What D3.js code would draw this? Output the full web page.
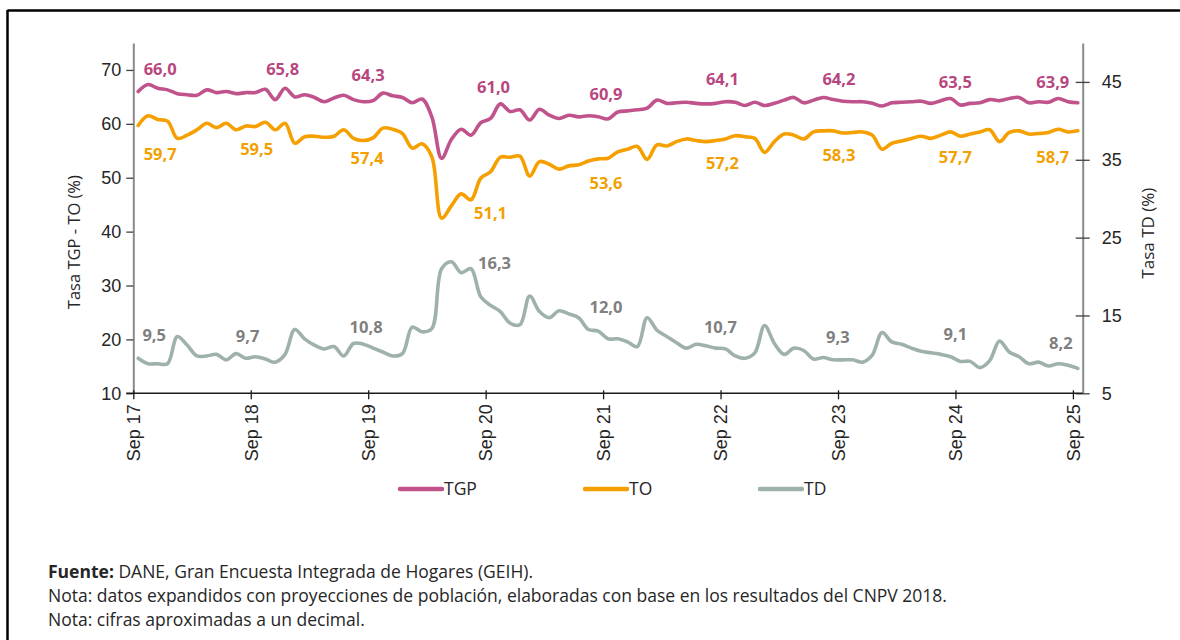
<!DOCTYPE html>
<html>
<head>
<meta charset="utf-8">
<script src="https://cdn.jsdelivr.net/npm/d3@7"></script>
<style>
  html, body { margin: 0; padding: 0; background: #fff; }
  svg { display: block; font-family: "Open Sans", "Noto Sans", sans-serif; }
</style>
</head>
<body>
<svg id="chart" width="1180" height="640"></svg>
<script>
// ---------- DATA ----------
const startMonth = "2017-09";
const xTickLabels = ["Sep 17","Sep 18","Sep 19","Sep 20","Sep 21","Sep 22","Sep 23","Sep 24","Sep 25"];
const leftTicks = [10, 20, 30, 40, 50, 60, 70];
const rightTicks = [5, 15, 25, 35, 45];
const seriesNames = ["TGP", "TO", "TD"];

const tgp = [66.0,67.3,66.6,66.3,65.6,65.4,65.3,66.3,65.8,66.0,65.6,65.8,
  65.8,66.4,64.5,66.6,65.0,65.4,64.9,64.1,64.8,65.3,64.5,64.1,
  64.3,65.7,65.2,64.9,63.9,64.6,61.3,53.6,57.1,59.0,57.9,60.2,
  61.0,63.7,62.3,62.6,60.7,62.7,61.6,61.0,61.6,61.3,61.5,61.3,
  60.9,62.2,62.4,62.6,62.9,64.4,63.8,63.9,64.0,63.8,63.7,63.8,
  64.1,64.0,63.4,64.0,63.4,63.8,64.4,64.9,63.9,64.4,64.9,64.5,
  64.2,64.1,64.1,63.8,63.3,63.9,64.0,64.1,64.2,63.8,64.3,64.7,
  63.5,63.8,63.9,64.5,64.3,64.7,64.9,63.9,64.1,64.0,64.7,64.1,
  63.9];
const to = [59.7,61.5,60.8,60.5,57.3,57.9,58.9,60.1,59.3,60.1,58.9,59.6,
  59.5,60.3,58.9,60.1,56.4,57.6,57.7,57.5,57.7,58.9,57.3,56.9,
  57.4,59.2,59.0,58.2,55.5,56.3,53.9,42.5,44.8,47.0,45.9,49.9,
  51.1,53.8,53.8,54.0,50.3,53.0,52.5,51.6,52.2,52.4,53.1,53.5,
  53.6,54.8,55.3,55.8,53.4,56.1,55.9,56.7,57.2,56.9,56.7,56.9,
  57.2,57.8,57.6,57.3,54.7,56.7,58.1,57.9,57.2,58.5,58.7,58.7,
  58.3,58.4,58.5,57.9,55.3,56.4,56.8,57.3,57.7,57.3,57.9,58.5,
  57.7,58.1,58.5,58.9,56.7,58.4,58.7,58.1,58.2,58.4,59.0,58.5,
  58.7];
const td = [9.5,8.8,8.8,8.8,12.3,11.2,9.8,9.8,10.0,9.3,10.1,9.5,
  9.7,9.4,9.0,10.0,13.2,12.0,11.2,10.7,11.0,9.8,11.4,11.3,
  10.8,10.3,9.8,10.1,13.5,12.9,13.3,21.0,21.9,20.5,21.0,17.4,
  16.3,15.5,14.0,13.8,17.5,15.5,14.7,15.6,15.2,14.7,13.2,13.0,
  12.0,12.0,11.6,11.0,14.7,13.1,12.3,11.5,10.8,11.3,11.1,10.8,
  10.7,9.8,9.5,10.2,13.7,11.4,10.0,10.8,10.5,9.4,9.6,9.3,
  9.3,9.3,9.0,9.9,12.8,11.6,11.3,10.8,10.4,10.2,10.0,9.7,
  9.1,9.1,8.3,9.2,11.7,10.3,9.7,8.8,9.0,8.5,8.8,8.6,
  8.2];
// Labelled points: every September (index within the series)
const labelIdx = [0, 12, 24, 36, 48, 60, 72, 84, 96];

const footerLines = [
  { bold: "Fuente:", text: " DANE, Gran Encuesta Integrada de Hogares (GEIH)." },
  { bold: "", text: "Nota: datos expandidos con proyecciones de población, elaboradas con base en los resultados del CNPV 2018." },
  { bold: "", text: "Nota: cifras aproximadas a un decimal." }
];

// ---------- STYLE / LAYOUT ----------
const colors = { TGP: "#c0538c", TO: "#f5a000", TD: "#9fb1ad" };
const labelColors = { TGP: "#b8467f", TO: "#f2a000", TD: "#7f7f7f" };
// label offsets (px) relative to their point, per labelled point
const labelOffsets = {
  TGP: { dx: [22, 27, -5, 3, -2, -3, -4, -5, -25], dy: [-22, -23, -25, -31, -25, -23, -22, -23, -21] },
  TO:  { dx: [22, 1, -6, 0, -2, -3, -4, -5, -25], dy: [29, 23, 20, 41, 25, 24, 22, 21, 26] },
  TD:  { dx: [16, -8, -7, 4, -2, -5, -5, -5, -17], dy: [-23, -20, -21, -42, -32, -22, -23, -27, -25] }
};

const svg = d3.select("#chart");
const plotLeft = 133.3, plotRight = 1082.7, plotTop = 43, plotBottom = 393.3;

const parse = d3.timeParse("%Y-%m");
const n = tgp.length;
const months = d3.range(n).map(i => d3.timeMonth.offset(parse(startMonth), i));

const x = d3.scaleLinear().domain([0, n]).range([plotLeft, plotRight]);
const yL = d3.scaleLinear().domain([10, 75]).range([plotBottom, plotTop]);
const yR = d3.scaleLinear().domain([5, 50]).range([plotBottom, plotTop]);

// frame
svg.append("line").attr("x1", 7.5).attr("x2", 1180).attr("y1", 10.5).attr("y2", 10.5)
  .attr("stroke", "#000").attr("stroke-width", 2.5);
svg.append("line").attr("x1", 7.5).attr("x2", 7.5).attr("y1", 10).attr("y2", 640)
  .attr("stroke", "#000").attr("stroke-width", 2.5);

// left axis
const gL = svg.append("g").attr("transform", `translate(${plotLeft},0)`)
  .call(d3.axisLeft(yL).tickValues(leftTicks).tickSize(7).tickSizeOuter(0).tickPadding(5));
gL.select(".domain").attr("stroke", "#8a8a8a").attr("stroke-width", 2);
gL.selectAll(".tick line").attr("stroke", "#404040").attr("stroke-width", 1.3);
gL.selectAll(".tick text").attr("fill", "#262626").style("font-size", "18px");

// right axis
const gR = svg.append("g").attr("transform", `translate(${plotRight},0)`)
  .call(d3.axisRight(yR).tickValues(rightTicks).tickSize(7).tickSizeOuter(0).tickPadding(12));
gR.select(".domain").attr("stroke", "#8a8a8a").attr("stroke-width", 2);
gR.selectAll(".tick line").attr("x1", -7).attr("stroke", "#404040").attr("stroke-width", 1.3);
gR.selectAll(".tick text").attr("fill", "#262626").style("font-size", "18px");

// x axis
const xTickVals = xTickLabels.map((d, k) => k * 12);
const gX = svg.append("g").attr("transform", `translate(0,${plotBottom})`)
  .call(d3.axisBottom(x).tickValues(xTickVals).tickFormat((d, k) => xTickLabels[k]).tickSize(6).tickSizeOuter(0));
gX.select(".domain").attr("stroke", "#1a1a1a").attr("stroke-width", 1.5)
  .attr("d", `M${plotLeft - 7},0H${plotRight}`);
gX.selectAll(".tick line").attr("y1", -3).attr("stroke", "#1a1a1a").attr("stroke-width", 1.3);
gX.selectAll(".tick text")
  .attr("fill", "#262626").style("font-size", "18px")
  .attr("transform", "rotate(-90)")
  .attr("text-anchor", "end")
  .attr("x", -11).attr("y", 0).attr("dy", "0.35em");

// axis titles
svg.append("text").attr("transform", `translate(80,${(plotTop + plotBottom) / 2 + 24}) rotate(-90)`)
  .attr("text-anchor", "middle").attr("fill", "#262626").style("font-size", "16.5px")
  .text("Tasa TGP - TO (%)");
svg.append("text").attr("transform", `translate(1154,${(plotTop + plotBottom) / 2 + 15}) rotate(-90)`)
  .attr("text-anchor", "middle").attr("fill", "#262626").style("font-size", "17px")
  .text("Tasa TD (%)");

// lines
const seriesData = { TGP: tgp, TO: to, TD: td };
const yFor = { TGP: yL, TO: yL, TD: yR };
seriesNames.slice().reverse().forEach(name => {
  const vals = seriesData[name];
  const line = d3.line()
    .x((d, i) => x(i + 0.5))
    .y(d => yFor[name](d))
    .curve(d3.curveCatmullRom.alpha(0.5));
  svg.append("path").datum(vals)
    .attr("fill", "none").attr("stroke", colors[name])
    .attr("stroke-width", 3.6).attr("stroke-linejoin", "round").attr("stroke-linecap", "round")
    .attr("d", line);
});

// data labels
const fmt = v => d3.format(".1f")(v).replace(".", ",");
seriesNames.forEach(name => {
  const vals = seriesData[name];
  const off = labelOffsets[name];
  svg.append("g").selectAll("text").data(labelIdx).join("text")
    .attr("x", (idx, k) => x(idx + 0.5) + off.dx[k])
    .attr("y", (idx, k) => yFor[name](vals[idx]) + off.dy[k])
    .attr("dy", "0.35em")
    .attr("text-anchor", "middle")
    .attr("fill", labelColors[name])
    .style("font-size", "16.5px").style("font-weight", 700)
    .text(idx => fmt(vals[idx]));
});

// legend
const legendX = [400, 585, 760];
const legend = svg.append("g");
seriesNames.forEach((name, k) => {
  legend.append("line").attr("x1", legendX[k]).attr("x2", legendX[k] + 42)
    .attr("y1", 489).attr("y2", 489).attr("stroke", colors[name]).attr("stroke-width", 4.5)
    .attr("stroke-linecap", "round");
  legend.append("text").attr("x", legendX[k] + 44).attr("y", 489).attr("dy", "0.35em")
    .attr("fill", "#262626").style("font-size", "17.5px").text(name);
});

// footer
footerLines.forEach((ln, k) => {
  const t = svg.append("text").attr("x", 48).attr("y", 578 + k * 24)
    .attr("fill", "#262626").style("font-size", "17.5px");
  if (ln.bold) t.append("tspan").style("font-weight", 700).text(ln.bold);
  t.append("tspan").text(ln.text);
});
</script>
</body>
</html>
